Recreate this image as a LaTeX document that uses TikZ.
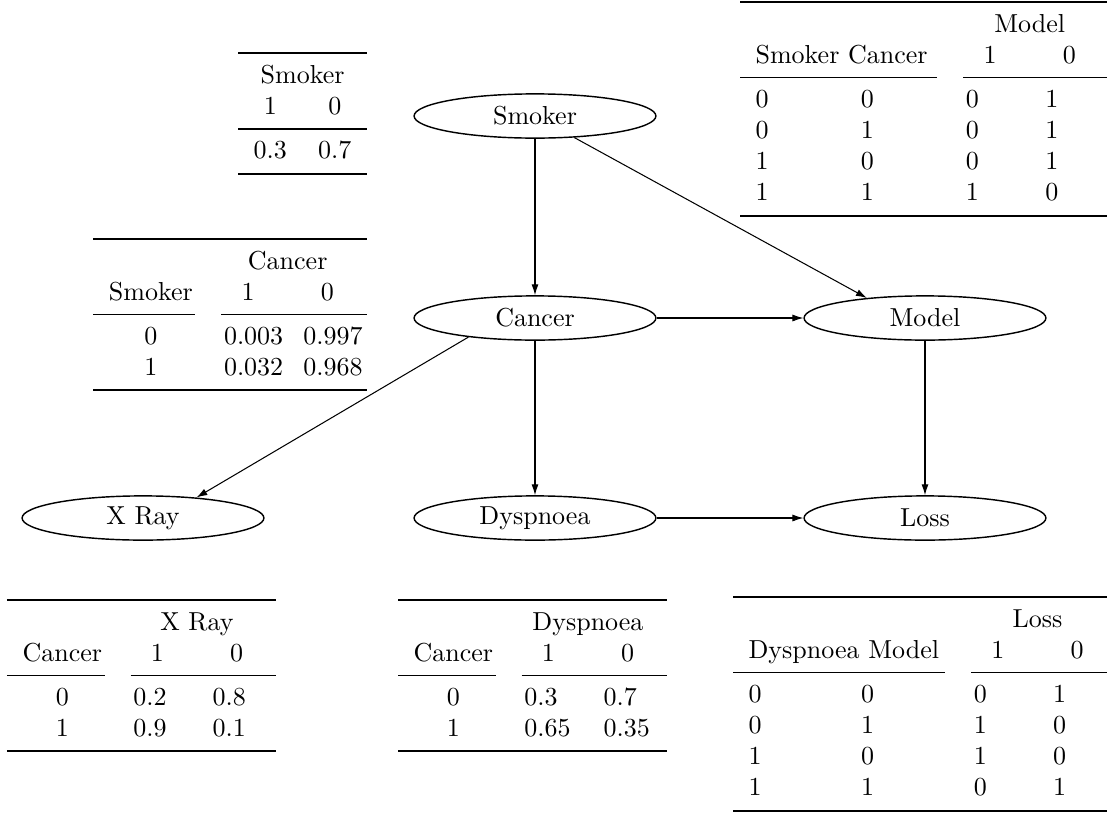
\documentclass[tikz,border=0pt]{standalone}
\usepackage{booktabs}
\usetikzlibrary{shapes.geometric,arrows.meta}
\newcommand{\hc}[1]{\multicolumn{1}{c}{#1}}
\begin{document}
\begin{tikzpicture}[x=0.3846pt,y=-0.3846pt,
  var/.style={ellipse,draw,line width=0.55pt,minimum width=93pt,minimum height=17pt,inner sep=0pt},
  edge/.style={-{Latex[length=4.2pt,width=2.7pt]},line width=0.4pt},
  cpt/.style={inner sep=0pt,outer sep=0pt}]
\useasboundingbox (0,0) rectangle (1107,816);
% variables
\node[var] (smoker) at (535,116) {Smoker};
\node[var] (cancer) at (535,318) {Cancer};
\node[var] (model) at (925,318) {Model};
\node[var] (xray) at (143,518) {X Ray};
\node[var] (dysp) at (535,518) {Dyspnoea};
\node[var] (loss) at (925,518) {Loss};
% edges
\draw[edge] (smoker) -- (cancer);
\draw[edge] (smoker) -- (model.161);
\draw[edge] (cancer) -- (model);
\draw[edge] (cancer.196) -- (xray.21);
\draw[edge] (cancer) -- (dysp);
\draw[edge] (model) -- (loss);
\draw[edge] (dysp) -- (loss);
% tables
\node[cpt,anchor=north east] (tsmoker) at (367,52) {\begin{tabular}{cc}
\toprule
\multicolumn{2}{c}{Smoker}\\
1 & 0\\
\midrule
0.3 & 0.7\\
\bottomrule
\end{tabular}};
\node[cpt,anchor=north east] (tcancer) at (367,238) {\begin{tabular}{cp{0.65cm}p{0.65cm}}
\toprule
 & \multicolumn{2}{c}{Cancer}\\
Smoker & \hc{1} & \hc{0}\\
\cmidrule(r){1-1}\cmidrule(l){2-3}
0 & 0.003 & 0.997\\
1 & 0.032 & 0.968\\
\bottomrule
\end{tabular}};
\node[cpt,anchor=north west] (tmodel) at (740,1) {\begin{tabular}{p{1cm}p{1cm}p{0.65cm}p{0.65cm}}
\toprule
 & & \multicolumn{2}{c}{Model}\\
\multicolumn{2}{l}{Smoker Cancer} & \hc{1} & \hc{0}\\
\cmidrule(r){1-2}\cmidrule(l){3-4}
0 & 0 & 0 & 1\\
0 & 1 & 0 & 1\\
1 & 0 & 0 & 1\\
1 & 1 & 1 & 0\\
\bottomrule
\end{tabular}};
\node[cpt,anchor=north west] (txray) at (7,599) {\begin{tabular}{cp{0.65cm}p{0.65cm}}
\toprule
 & \multicolumn{2}{c}{X Ray}\\
Cancer & \hc{1} & \hc{0}\\
\cmidrule(r){1-1}\cmidrule(l){2-3}
0 & 0.2 & 0.8\\
1 & 0.9 & 0.1\\
\bottomrule
\end{tabular}};
\node[cpt,anchor=north west] (tdysp) at (398,599) {\begin{tabular}{cp{0.65cm}p{0.65cm}}
\toprule
 & \multicolumn{2}{c}{Dyspnoea}\\
Cancer & \hc{1} & \hc{0}\\
\cmidrule(r){1-1}\cmidrule(l){2-3}
0 & 0.3 & 0.7\\
1 & 0.65 & 0.35\\
\bottomrule
\end{tabular}};
\node[cpt,anchor=north west] (tloss) at (733,596) {\begin{tabular}{p{1.1cm}p{1.1cm}p{0.65cm}p{0.65cm}}
\toprule
 & & \multicolumn{2}{c}{Loss}\\
\multicolumn{2}{l}{Dyspnoea Model} & \hc{1} & \hc{0}\\
\cmidrule(r){1-2}\cmidrule(l){3-4}
0 & 0 & 0 & 1\\
0 & 1 & 1 & 0\\
1 & 0 & 1 & 0\\
1 & 1 & 0 & 1\\
\bottomrule
\end{tabular}};
\end{tikzpicture}
\end{document}
